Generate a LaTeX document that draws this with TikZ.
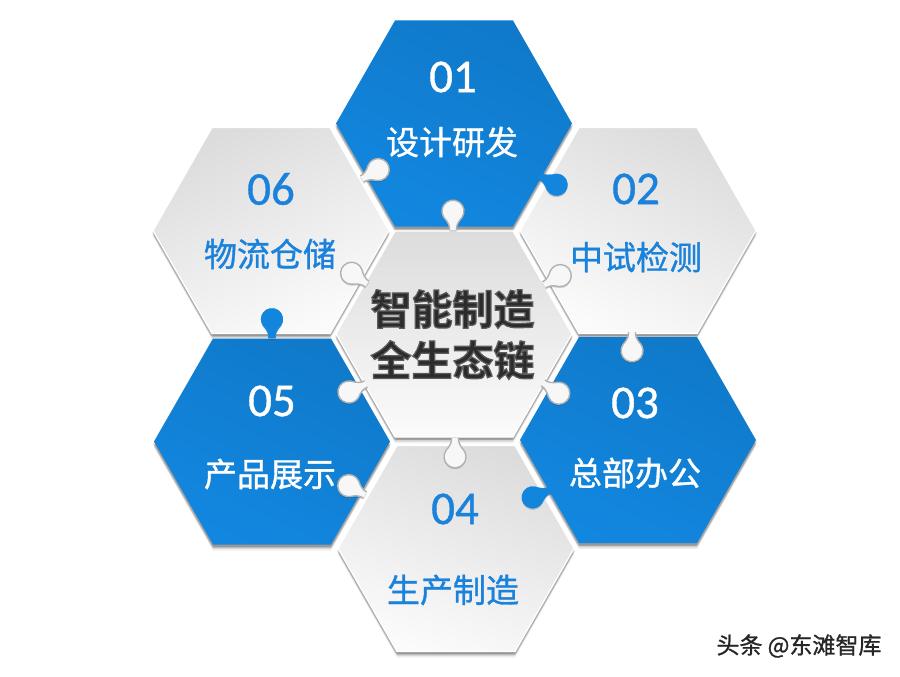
\documentclass[tikz,border=0pt]{standalone}
\usepackage{fontspec}
\setmainfont{Carlito}
\newfontfamily\cjk{Noto Sans CJK SC}[FakeBold=1]
\newfontfamily\cjkb{Noto Sans CJK SC Bold}[FakeBold=3]
\newfontfamily\numfont{Carlito}[FakeBold=0.8]
\definecolor{bluedark}{HTML}{1079C9}
\definecolor{bluelight}{HTML}{1287E0}
\definecolor{textblue}{HTML}{1B82DC}
\definecolor{graydark}{HTML}{DCDCDC}
\definecolor{graylight}{HTML}{FBFBFB}
\definecolor{titlegray}{HTML}{2C2C2C}
\newcommand{\softedge}{\special{pdf:code 0.36 0.36 0.36 RG}}
\tikzset{x=1pt,y=1pt,
 bluehex/.style={top color=bluedark,bottom color=bluelight,shading angle=-25},
 grayhex/.style={top color=graydark,bottom color=graylight,shading angle=#1},
 grayhex/.default=0,
 numlabel/.style={font=\numfont\fontsize{47}{47}\selectfont,inner sep=0pt},
 namelabel/.style={font=\cjk\fontsize{33}{33}\selectfont,inner sep=0pt},
 titlelabel/.style={font=\cjkb\fontsize{41}{41}\selectfont,inner sep=0pt,text=titlegray},
 bluetab/.style={fill=bluelight!85!bluedark},
 graytab/.style={fill=graylight!88!graydark},
 graytabline/.style={draw=black!30,line width=1.4pt},
 bluetabline/.style={draw=bluelight!85!bluedark,line width=.2pt},
}
\newcommand{\hexpath}{(-59,103) -- (59,103) -- (118,0) -- (59,-103) -- (-59,-103) -- (-118,0) -- cycle}
\newcommand{\hexa}[3]{%
 \begin{scope}[shift={(#1,#2)}]
  \foreach \dx/\dy/\op in {0/-6/.06,0/-4.5/.10,0/-3/.16,1.2/-2.5/.08,-1.2/-2.5/.08}{
   \fill[black,opacity=\op,shift={(\dx,\dy)}] \hexpath;}
  \shade[#3] \hexpath;
 \end{scope}}
\newcommand{\bevel}[2]{%
 \begin{scope}[shift={(#1,#2)}]
  \draw[white,line width=1.3pt,line join=round] \hexpath;
 \end{scope}}
\newcommand{\tabline}{(0,-3.5) .. controls (4,-3) and (8,-5) .. (12.5,-9) arc[start angle=-125,end angle=125,radius=11] .. controls (8,5) and (4,3) .. (0,3.5)}
\newcommand{\tabb}[4]{%
 \begin{scope}[shift={(#1,#2-1.5)},rotate=#3]
  \fill[black,opacity=.16] \tabline -- cycle;
 \end{scope}
 \begin{scope}[shift={(#1,#2)},rotate=#3]
  \path[#4tab] \tabline -- cycle;
  \draw[#4tabline] \tabline;
 \end{scope}}
\begin{document}
\begin{tikzpicture}
\useasboundingbox (0,-677) rectangle (900,0);
\fill[white] (0,-677) rectangle (900,0);
% hexagons
\hexa{271}{-230.5}{grayhex=25}
\bevel{271}{-230.5}
\hexa{638}{-230.5}{grayhex=-25}
\bevel{638}{-230.5}
\hexa{272}{-441.5}{bluehex}
\hexa{638}{-440}{bluehex}
\hexa{454}{-123.5}{bluehex}
\hexa{456}{-548.5}{grayhex=-20}
\bevel{456}{-548.5}
\hexa{454}{-334}{grayhex=0}
\bevel{454}{-334}
% puzzle tabs
\tabb{540}{-176}{-28}{blue}
\tabb{362}{-179}{30}{gray}
\tabb{453}{-230}{90}{gray}
\tabb{544}{-285}{30}{gray}
\tabb{367}{-284}{145}{gray}
\tabb{366}{-384}{205}{gray}
\tabb{543}{-383}{-33}{gray}
\tabb{632}{-332}{-90}{gray}
\tabb{272}{-338}{90}{blue}
\tabb{550}{-490}{203}{blue}
\tabb{455}{-438}{-90}{gray}
\tabb{365}{-495}{150}{gray}
% labels
\node[numlabel,text=white] (n1) at (453,-77) {01};
\node[namelabel,text=white] (t1) at (452,-142) {设计研发};
\node[numlabel,text=textblue] (n2) at (636,-189) {02};
\node[namelabel,text=textblue] (t2) at (636,-257) {中试检测};
\node[numlabel,text=white] (n3) at (635,-403) {03};
\node[namelabel,text=white] (t3) at (635,-473) {总部办公};
\node[numlabel,text=textblue] (n4) at (455,-509) {04};
\node[namelabel,text=textblue] (t4) at (453,-590) {生产制造};
\node[numlabel,text=white] (n5) at (272,-401) {05};
\node[namelabel,text=white] (t5) at (270,-474) {产品展示};
\node[numlabel,text=textblue] (n6) at (271,-189) {06};
\node[namelabel,text=textblue] (t6) at (270,-254) {物流仓储};
% title
\node[titlelabel] (c1) at (452.5,-309) {\softedge 智能制造};
\node[titlelabel] (c2) at (452.5,-360) {\softedge 全生态链};
\node[font=\cjk\fontsize{23}{23}\selectfont,inner sep=0pt,text=black!85] (wm) at (799,-646) {头条 @东滩智库};
\end{tikzpicture}
\end{document}
